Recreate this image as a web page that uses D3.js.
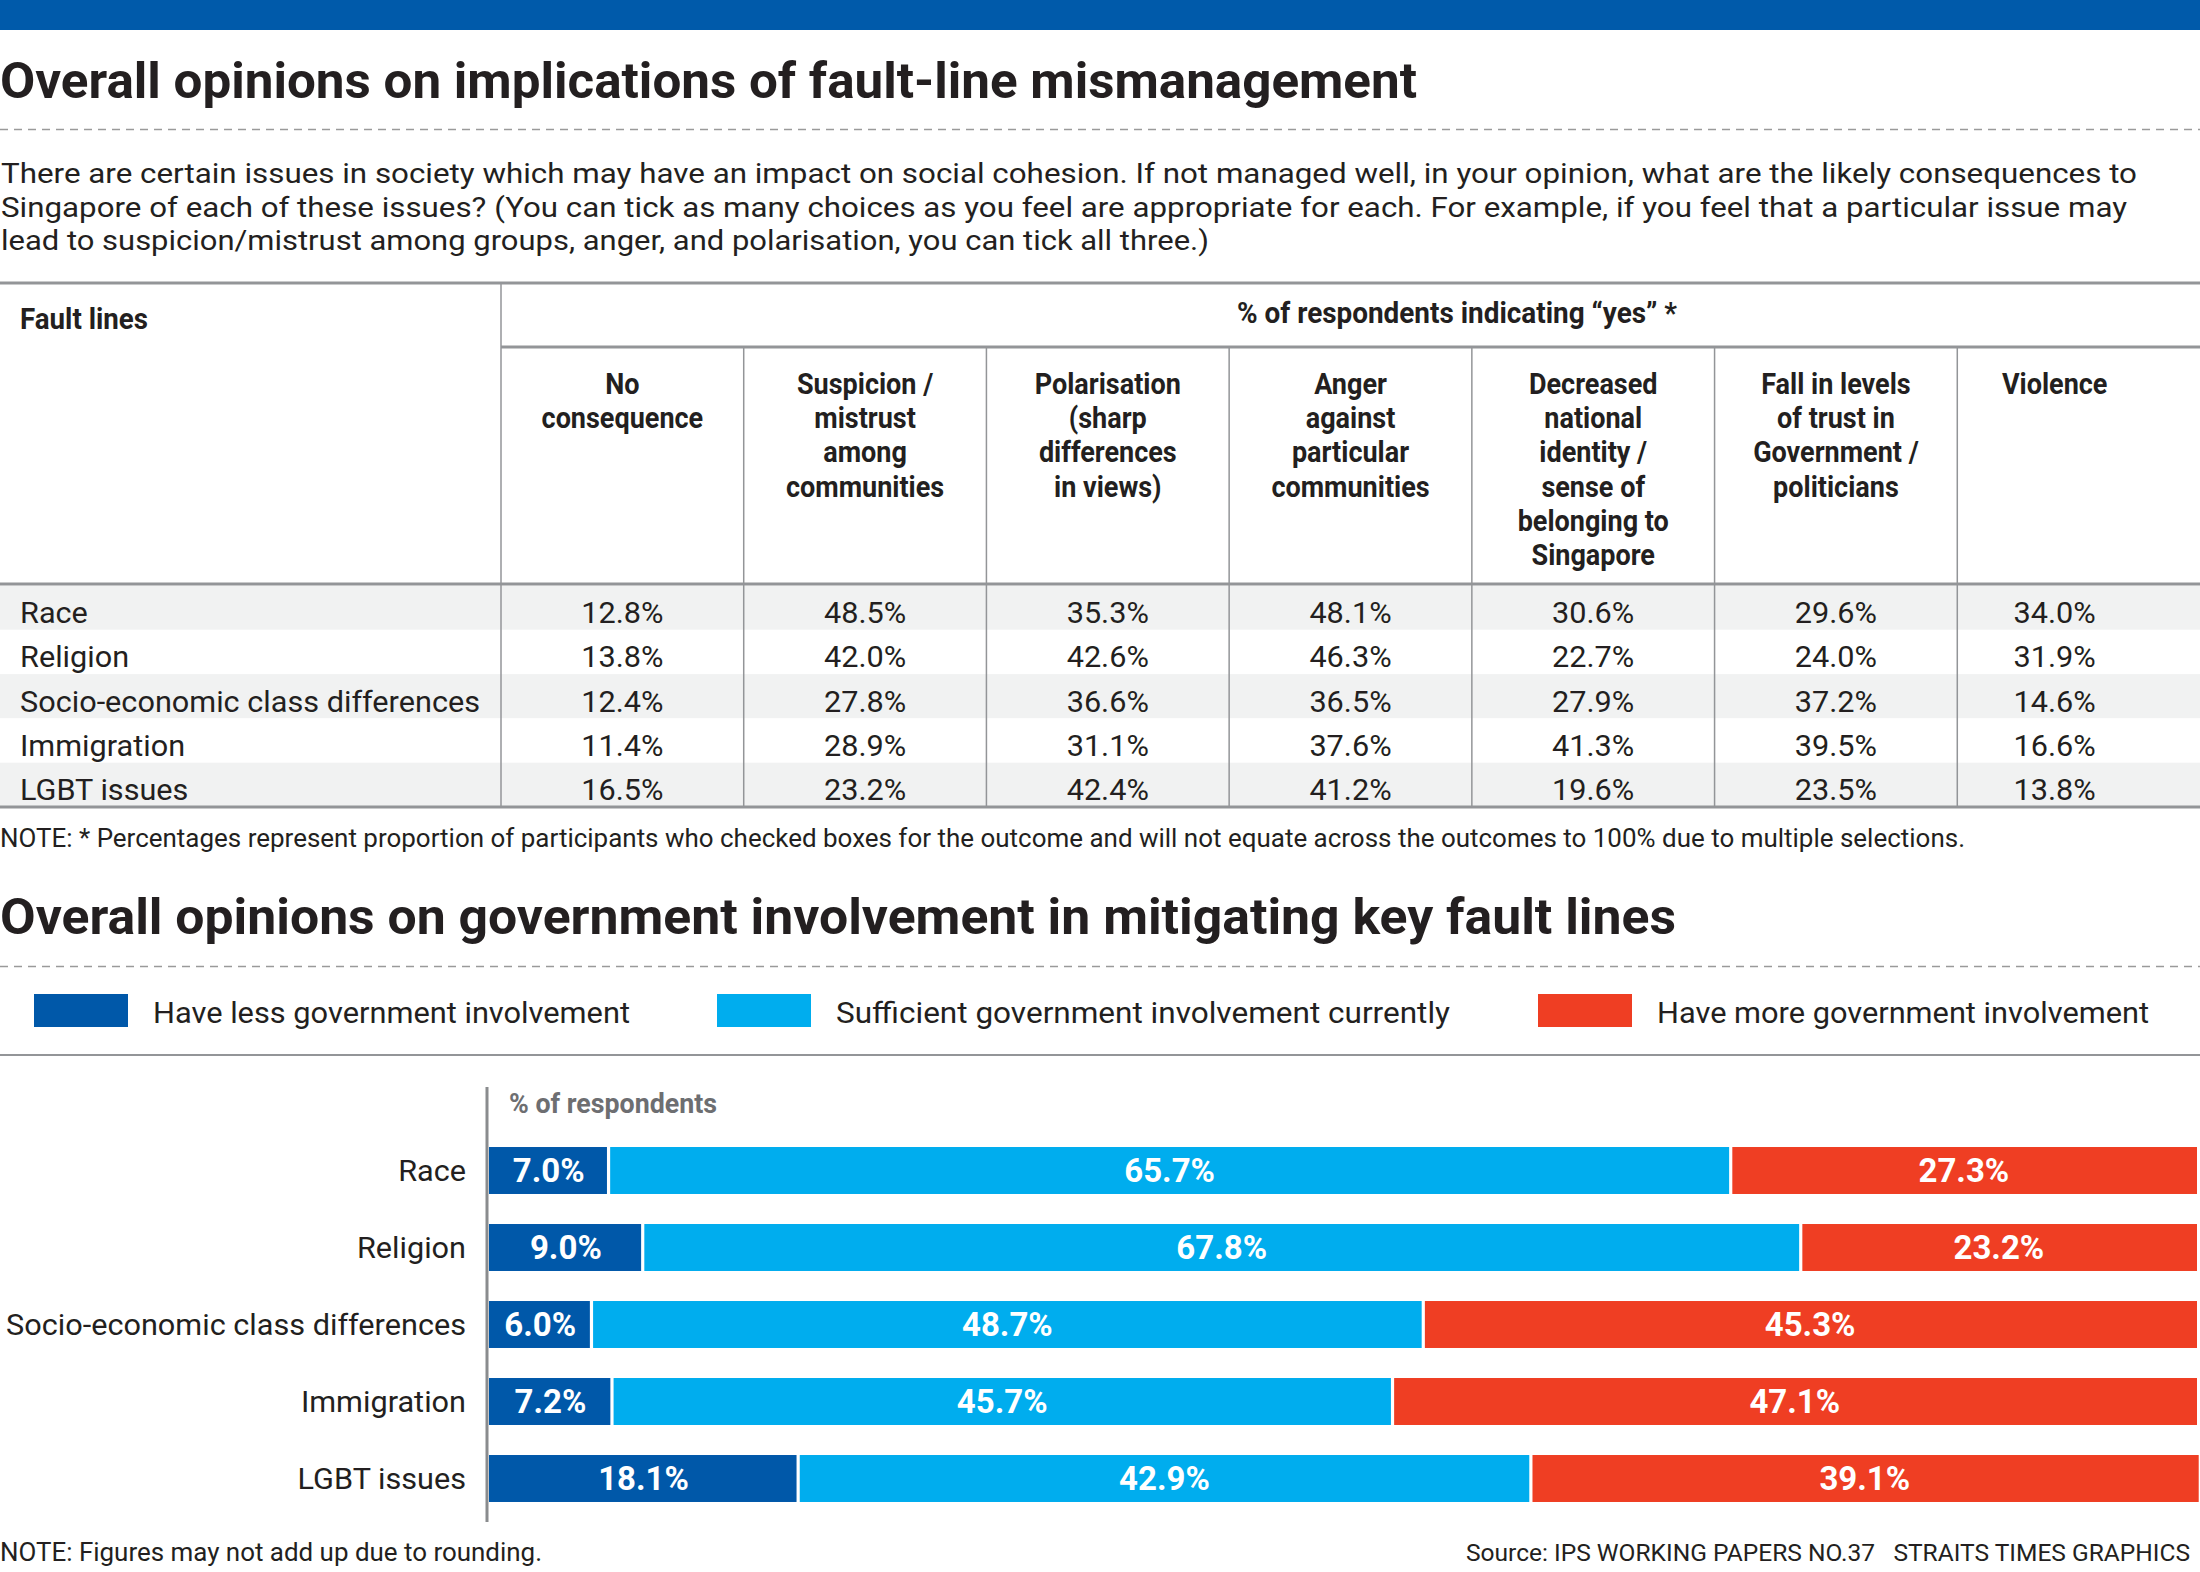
<!DOCTYPE html>
<html><head><meta charset="utf-8">
<script src="https://cdn.jsdelivr.net/npm/d3@7"></script>
<style>
html,body{margin:0;padding:0;background:#fff;}
svg{display:block;}
</style></head>
<body>
<svg id="c" width="2200" height="1572"></svg>
<script>
// ---------------- DATA ----------------
const title1 = "Overall opinions on implications of fault-line mismanagement";
const questionLines = [
  "There are certain issues in society which may have an impact on social cohesion. If not managed well, in your opinion, what are the likely consequences to",
  "Singapore of each of these issues? (You can tick as many choices as you feel are appropriate for each. For example, if you feel that a particular issue may",
  "lead to suspicion/mistrust among groups, anger, and polarisation, you can tick all three.)"
];
const faultLines = ["Race", "Religion", "Socio-economic class differences", "Immigration", "LGBT issues"];
const columnKeys = ["none", "suspicion", "polarisation", "anger", "identity", "trust", "violence"];
const columnHeaders = [
  ["No", "consequence"],
  ["Suspicion /", "mistrust", "among", "communities"],
  ["Polarisation", "(sharp", "differences", "in views)"],
  ["Anger", "against", "particular", "communities"],
  ["Decreased", "national", "identity /", "sense of", "belonging to", "Singapore"],
  ["Fall in levels", "of trust in", "Government /", "politicians"],
  ["Violence"]
];
const noConsequence   = [12.8, 13.8, 12.4, 11.4, 16.5];
const suspicion       = [48.5, 42.0, 27.8, 28.9, 23.2];
const polarisation    = [35.3, 42.6, 36.6, 31.1, 42.4];
const anger           = [48.1, 46.3, 36.5, 37.6, 41.2];
const decreasedIdentity = [30.6, 22.7, 27.9, 41.3, 19.6];
const fallInTrust     = [29.6, 24.0, 37.2, 39.5, 23.5];
const violence        = [34.0, 31.9, 14.6, 16.6, 13.8];
const note1 = "NOTE: * Percentages represent proportion of participants who checked boxes for the outcome and will not equate across the outcomes to 100% due to multiple selections.";

const title2 = "Overall opinions on government involvement in mitigating key fault lines";
const seriesNames = ["Have less government involvement", "Sufficient government involvement currently", "Have more government involvement"];
const lessInvolvement = [7.0, 9.0, 6.0, 7.2, 18.1];
const sufficientInvolvement = [65.7, 67.8, 48.7, 45.7, 42.9];
const moreInvolvement = [27.3, 23.2, 45.3, 47.1, 39.1];
const axisLabel = "% of respondents";
const note2 = "NOTE: Figures may not add up due to rounding.";
const source = "Source: IPS WORKING PAPERS NO.37\u00a0\u00a0\u00a0STRAITS TIMES GRAPHICS";

// ---------------- DRAW ----------------
const W = 2200;
const FONT = "Roboto, 'Open Sans', 'DejaVu Sans', sans-serif";
const INK = "#231f20";
const GRID = "#939598";
const colors = ["#0058a9", "#00adee", "#ef3e23"];
const svg = d3.select("#c").attr("font-family", FONT);

function fit(sel, w) { sel.attr("textLength", w).attr("lengthAdjust", "spacingAndGlyphs"); return sel; }
function condense(sel, k) {
  sel.each(function () {
    const n = this.getComputedTextLength();
    this.setAttribute("textLength", n * k);
    this.setAttribute("lengthAdjust", "spacingAndGlyphs");
  });
  return sel;
}

// top bar
svg.append("rect").attr("x", 0).attr("y", 0).attr("width", W).attr("height", 30).attr("fill", "#005aaa");

// title 1
fit(svg.append("text").attr("x", 0).attr("y", 98).attr("font-size", 50).attr("font-weight", 700)
  .attr("fill", INK).text(title1), 1417);

svg.append("line").attr("x1", 0).attr("x2", W).attr("y1", 129.5).attr("y2", 129.5)
  .attr("stroke", "#9a9a9a").attr("stroke-width", 1.5).attr("stroke-dasharray", "8,6");

// question
const qWidths = [2136, 2126, 1208];
svg.selectAll("text.q").data(questionLines).join("text").attr("class", "q")
  .attr("x", 1).attr("y", (d, i) => 183 + i * 33.5)
  .attr("font-size", 28).attr("fill", INK).text(d => d)
  .each(function (d, i) { fit(d3.select(this), qWidths[i]); });

// ---------- table ----------
const colX = d3.scaleBand().domain(columnKeys).range([501, 2200]);
const TABLE_VISIBLE_RIGHT = 2152;   // the last column is cropped by the frame
const colCenter = k => (colX(k) + Math.min(colX(k) + colX.bandwidth(), TABLE_VISIBLE_RIGHT)) / 2;
const rowY = d3.scaleBand().domain(faultLines).range([585.5, 807]);
const tableValues = {
  none: noConsequence, suspicion: suspicion, polarisation: polarisation, anger: anger,
  identity: decreasedIdentity, trust: fallInTrust, violence: violence
};

// row backgrounds
svg.selectAll("rect.rowbg").data(faultLines).join("rect").attr("class", "rowbg")
  .attr("x", 0).attr("width", W)
  .attr("y", d => rowY(d)).attr("height", rowY.bandwidth())
  .attr("fill", (d, i) => i % 2 === 0 ? "#f1f2f2" : "#ffffff");

// vertical lines
svg.append("line").attr("x1", 501).attr("x2", 501).attr("y1", 283).attr("y2", 807)
  .attr("stroke", GRID).attr("stroke-width", 1.5);
svg.selectAll("line.vcol").data(columnKeys.slice(1)).join("line").attr("class", "vcol")
  .attr("x1", d => colX(d)).attr("x2", d => colX(d)).attr("y1", 347).attr("y2", 807)
  .attr("stroke", GRID).attr("stroke-width", 1.5);

// horizontal rules
[[0, 283], [501, 347], [0, 584], [0, 807]].forEach(([x0, y]) => {
  svg.append("line").attr("x1", x0).attr("x2", W).attr("y1", y).attr("y2", y)
    .attr("stroke", GRID).attr("stroke-width", 3);
});

// header labels
fit(svg.append("text").attr("x", 20).attr("y", 329).attr("font-size", 30).attr("font-weight", 700)
  .attr("fill", INK).text("Fault lines"), 128);
fit(svg.append("text").attr("x", 1457).attr("y", 323).attr("text-anchor", "middle")
  .attr("font-size", 30).attr("font-weight", 700).attr("fill", INK)
  .text("% of respondents indicating \u201cyes\u201d *"), 440);

const hdr = svg.selectAll("g.hdr").data(columnKeys).join("g").attr("class", "hdr")
  .attr("transform", d => `translate(${colCenter(d)},0)`);
hdr.each(function (k, ci) {
  const g = d3.select(this);
  g.selectAll("text").data(columnHeaders[ci]).join("text")
    .attr("x", 0).attr("y", (d, i) => 394 + i * 34.2)
    .attr("text-anchor", "middle").attr("font-size", 30).attr("font-weight", 700)
    .attr("fill", INK).text(d => d)
    .call(s => condense(s, 0.9));
});

// row labels
const rowLabels = svg.selectAll("text.rowlab").data(faultLines).join("text").attr("class", "rowlab")
  .attr("x", 20).attr("y", d => rowY(d) + 37.5)
  .attr("font-size", 29).attr("fill", INK).text(d => d);
let kRow = 1;
rowLabels.each(function (d) { if (d === faultLines[2]) kRow = 460 / this.getComputedTextLength(); });
condense(rowLabels, kRow);

// values
const fmt = d3.format(".1f");
columnKeys.forEach(k => {
  svg.selectAll(null).data(tableValues[k]).join("text")
    .attr("x", colCenter(k))
    .attr("y", (d, i) => rowY(faultLines[i]) + 37.5)
    .attr("text-anchor", "middle").attr("font-size", 29).attr("fill", INK)
    .text(d => fmt(d) + "%")
    .call(s => condense(s, kRow));
});

fit(svg.append("text").attr("x", 0).attr("y", 847).attr("font-size", 25).attr("fill", INK).text(note1), 1965);

// ---------- chart ----------
fit(svg.append("text").attr("x", 0).attr("y", 934).attr("font-size", 50).attr("font-weight", 700)
  .attr("fill", INK).text(title2), 1676);
svg.append("line").attr("x1", 0).attr("x2", W).attr("y1", 966.5).attr("y2", 966.5)
  .attr("stroke", "#9a9a9a").attr("stroke-width", 1.5).attr("stroke-dasharray", "8,6");

// legend
const legX = [34, 717, 1538];
const legW = [477, 614, 492];
const leg = svg.selectAll("g.leg").data(seriesNames).join("g").attr("class", "leg")
  .attr("transform", (d, i) => `translate(${legX[i]},0)`);
leg.append("rect").attr("x", 0).attr("y", 994).attr("width", 94).attr("height", 33)
  .attr("fill", (d, i) => colors[i]);
leg.append("text").attr("x", 119).attr("y", 1023).attr("font-size", 29).attr("fill", INK).text(d => d)
  .each(function (d, i) { fit(d3.select(this), legW[i]); });

svg.append("line").attr("x1", 0).attr("x2", W).attr("y1", 1055).attr("y2", 1055)
  .attr("stroke", GRID).attr("stroke-width", 2);

const x = d3.scaleLinear().domain([0, 100]).range([489, 2197]);
const y = d3.scaleBand().domain(faultLines).range([1132, 1517]).paddingInner(0.39).paddingOuter(0.195);

const rows = faultLines.map((f, i) => ({
  name: f, less: lessInvolvement[i], sufficient: sufficientInvolvement[i], more: moreInvolvement[i]
}));
const keys = ["less", "sufficient", "more"];
const stacked = d3.stack().keys(keys)(rows);

const GAP = 1.6;
const layers = svg.selectAll("g.layer").data(stacked).join("g").attr("class", "layer")
  .attr("fill", (d, i) => colors[i]);
layers.each(function (s, si) {
  const g = d3.select(this);
  g.selectAll("rect").data(s).join("rect")
    .attr("x", d => x(d[0]) + (si > 0 ? GAP : 0))
    .attr("width", d => x(d[1]) - x(d[0]) - (si > 0 ? GAP : 0) - (si < 2 ? GAP : 0))
    .attr("y", d => y(d.data.name)).attr("height", y.bandwidth());
  g.selectAll("text").data(s).join("text")
    .attr("x", d => (x(d[0]) + x(d[1])) / 2)
    .attr("y", d => y(d.data.name) + y.bandwidth() / 2 + 11.5)
    .attr("text-anchor", "middle").attr("font-size", 33).attr("font-weight", 700)
    .attr("fill", "#ffffff").text(d => fmt(d[1] - d[0]) + "%");
});

// axis
const axis = svg.append("g").attr("transform", "translate(487,0)")
  .call(d3.axisLeft(y).tickSize(0).tickPadding(21));
axis.select(".domain").remove();
axis.selectAll("text").attr("font-family", FONT).attr("font-size", 30).attr("fill", INK)
  .attr("dy", "0.34em");
let kAx = 1;
axis.selectAll("text").each(function (d) { if (d === faultLines[2]) kAx = 460 / this.getComputedTextLength(); });
condense(axis.selectAll("text"), kAx);

svg.append("line").attr("x1", 487).attr("x2", 487).attr("y1", 1087).attr("y2", 1522)
  .attr("stroke", "#8a8c8e").attr("stroke-width", 3);
fit(svg.append("text").attr("x", 509).attr("y", 1113).attr("font-size", 28).attr("font-weight", 700)
  .attr("fill", "#6d6e71").text(axisLabel), 208);

// footer
fit(svg.append("text").attr("x", 0).attr("y", 1561).attr("font-size", 25).attr("fill", INK).text(note2), 542);
const srcText = svg.append("text").attr("x", 1466).attr("y", 1561).attr("font-size", 25)
  .attr("fill", INK).text(source);
const srcNatural = srcText.node().getComputedTextLength();
const SRC_W = 724;
if (srcNatural > SRC_W) srcText.attr("font-size", 25 * SRC_W / srcNatural);
fit(srcText, SRC_W);
</script>
</body></html>
